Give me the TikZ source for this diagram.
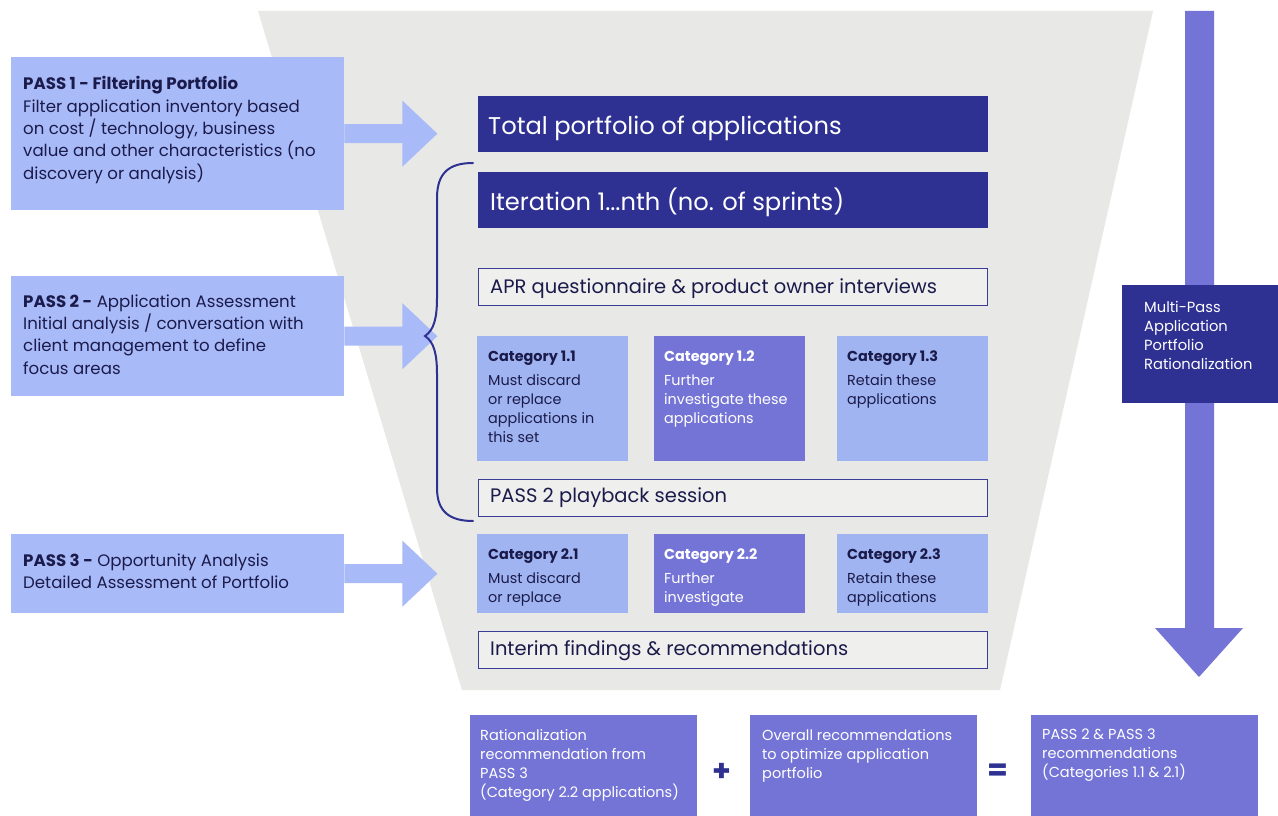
\documentclass[tikz,border=0pt]{standalone}
\usepackage{fontspec}
\setmainfont{Poppins}
\usetikzlibrary{calc}
\definecolor{navy}{HTML}{2E3192}
\definecolor{lightA}{HTML}{A9BAF9}
\definecolor{lightB}{HTML}{A0B4F1}
\definecolor{purp}{HTML}{7474D7}
\definecolor{txt}{HTML}{1B1B4B}
\definecolor{funnel}{HTML}{E8E8E6}
\definecolor{boxfill}{HTML}{EFEFEE}
\definecolor{border}{HTML}{3A3D96}
\tikzset{
  passbox/.style={fill=lightA, minimum width=333, minimum height=#1, anchor=north west, inner sep=0},
  passtext/.style={anchor=north west, inner sep=0, align=left, text=txt, font=\fontsize{16.6}{22.3}\selectfont},
  bigbox/.style={fill=navy, minimum width=510, minimum height=56, anchor=north west, inner sep=0},
  bigtext/.style={anchor=west, inner sep=0, text=white, font=\fontsize{24.2}{28}\selectfont},
  linebox/.style={fill=boxfill, draw=border, line width=1.3pt, minimum width=509, minimum height=37, anchor=north west, inner sep=0},
  linetext/.style={anchor=west, inner sep=0, text=txt, font=\fontsize{19.5}{23}\selectfont},
  catbox/.style={fill=#1, minimum width=151, anchor=north west, inner sep=0},
  cattext/.style={anchor=north west, inner sep=0, align=left, text=#1, font=\fontsize{14.4}{19}\selectfont},
  botbox/.style={fill=purp, minimum width=227, minimum height=101, anchor=north west, inner sep=0},
  bottext/.style={anchor=north west, inner sep=0, align=left, text=white, font=\fontsize{14.5}{19}\selectfont},
  blockarrow/.style={fill=lightA},
  opsign/.style={text=navy, font=\fontsize{30}{30}\selectfont\bfseries, inner sep=0}
}
\begin{document}
\begin{tikzpicture}[x=1pt,y=-1pt]
\useasboundingbox[fill=white] (0,0) rectangle (1278,816);
% funnel
\fill[funnel] (258,11) -- (1153,11) -- (1000,690) -- (462,690) -- cycle;
% vertical arrow
\fill[purp] (1185,11) -- (1214,11) -- (1214,628) -- (1243,628) -- (1199,677) -- (1155,628) -- (1185,628) -- cycle;
\node[fill=navy, minimum width=156, minimum height=118, anchor=north west, inner sep=0] (mp) at (1122,285) {};
\node[anchor=north west, inner sep=0, align=left, text=white, font=\fontsize{14.7}{19}\selectfont] (mpt) at (1144,301) {Multi-Pass\\Application\\Portfolio\\Rationalization};

% pass boxes
\node[passbox=153] (p1) at (11,57) {};
\node[passbox=120] (p2) at (11,276) {};
\node[passbox=79] (p3) at (11,534) {};
\foreach \p in {p1,p2,p3}{
  \fill[blockarrow] (\p.east) ++(0,-9.5) -- ++(58,0) -- ++(0,-23.5) -- ++(35,33) -- ++(-35,33) -- ++(0,-23.5) -- ++(-58,0) -- cycle;
}
\node[passtext] (p1t) at (23,76.5) {\textbf{PASS 1 - Filtering Portfolio}\\Filter application inventory based\\on cost / technology, business\\value and other characteristics (no\\discovery or analysis)};
\node[passtext] (p2t) at (23,294.5) {\textbf{PASS 2 -} Application Assessment\\Initial analysis / conversation with\\client management to define\\focus areas};
\node[passtext] (p3t) at (23,553.5) {\textbf{PASS 3 -} Opportunity Analysis\\Detailed Assessment of Portfolio};

% big boxes
\node[bigbox] (tot) at (478,96) {};
\node[bigtext] (tott) at ($(tot.west)+(10,4)$) {Total portfolio of applications};
\node[bigbox] (it) at (478,172) {};
\node[bigtext] (itt) at ($(it.west)+(12,2)$) {Iteration 1...nth (no. of sprints)};

% line boxes
\node[linebox] (apr) at (478,267.5) {};
\node[linetext] (aprt) at ($(apr.west)+(12,2)$) {APR questionnaire \& product owner interviews};
\node[linebox] (pb) at (478,478.5) {};
\node[linetext] (pbt) at ($(pb.west)+(12,0)$) {PASS 2 playback session};
\node[linebox] (im) at (478,630.5) {};
\node[linetext] (imt) at ($(im.west)+(12,1)$) {Interim findings \& recommendations};

% categories row 1
\node[catbox=lightB, minimum height=125] (c11) at (477,336) {};
\node[catbox=purp, minimum height=125] (c12) at (654,336) {};
\node[catbox=lightB, minimum height=125] (c13) at (837,336) {};
\node[cattext=txt] (c11t) at ($(c11.north west)+(11,15)$) {\textbf{Category 1.1}\\[4.5pt]Must discard\\or replace\\applications in\\this set};
\node[cattext=white] (c12t) at ($(c12.north west)+(10,15)$) {\textbf{Category 1.2}\\[4.5pt]Further\\investigate these\\applications};
\node[cattext=txt] (c13t) at ($(c13.north west)+(10,15)$) {\textbf{Category 1.3}\\[4.5pt]Retain these\\applications};

% categories row 2
\node[catbox=lightB, minimum height=79] (c21) at (477,534) {};
\node[catbox=purp, minimum height=79] (c22) at (654,534) {};
\node[catbox=lightB, minimum height=79] (c23) at (837,534) {};
\node[cattext=txt] (c21t) at ($(c21.north west)+(11,15)$) {\textbf{Category 2.1}\\[4.5pt]Must discard\\or replace};
\node[cattext=white] (c22t) at ($(c22.north west)+(10,15)$) {\textbf{Category 2.2}\\[4.5pt]Further\\investigate};
\node[cattext=txt] (c23t) at ($(c23.north west)+(10,15)$) {\textbf{Category 2.3}\\[4.5pt]Retain these\\applications};

% brace
\coordinate (bt) at (473,163);
\coordinate (bb) at (473,521);
\draw[navy, line width=2pt, line cap=round] (bt) .. controls (450,163) and (437,172) .. (437,198) -- (437,298)
  .. controls (437,318) and (434,330) .. (425,336) .. controls (434,342) and (437,354) .. (437,374) -- (437,488)
  .. controls (437,512) and (450,521) .. (bb);

% bottom boxes
\node[botbox] (b1) at (470,715) {};
\node[botbox] (b2) at (750,715) {};
\node[botbox] (b3) at (1031,715) {};
\node[bottext] (b1t) at ($(b1.north west)+(10,14)$) {Rationalization\\recommendation from\\PASS 3\\(Category 2.2 applications)};
\node[bottext] (b2t) at ($(b2.north west)+(12,14)$) {Overall recommendations\\to optimize application\\portfolio};
\node[bottext] (b3t) at ($(b3.north west)+(11,14)$) {PASS 2 \& PASS 3\\recommendations\\(Categories 1.1 \& 2.1)};
\node[opsign] (plus) at (722,772) {+};
\node[opsign] (eq) at (998,772) {=};
\end{tikzpicture}
\end{document}
